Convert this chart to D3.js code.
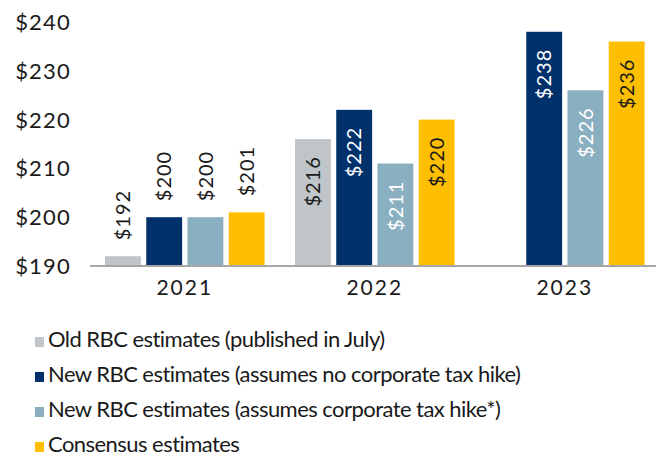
<!DOCTYPE html>
<html>
<head>
<meta charset="utf-8">
<script src="https://cdn.jsdelivr.net/npm/d3@7"></script>
<style>
  body { margin: 0; background: #fff; }
  text { font-family: Lato, 'Open Sans', sans-serif; fill: #1a1a1a; }
</style>
</head>
<body>
<div id="chart"></div>
<script>
const years = ['2021', '2022', '2023']
const seriesNames = [
  'Old RBC estimates (published in July)',
  'New RBC estimates (assumes no corporate tax hike)',
  'New RBC estimates (assumes corporate tax hike*)',
  'Consensus estimates'
]
const oldRbc = [192, 216, null]
const newNoHike = [200, 222, 238]
const newHike = [200, 211, 226]
const consensus = [201, 220, 236]
const yTicks = [190, 200, 210, 220, 230, 240]

const colors = ['#bfc5c9', '#00316b', '#8aafc0', '#fdbf00']
const labelColors = ['#1a1a1a', '#ffffff', '#ffffff', '#1a1a1a']
const width = 656
const height = 456
const baseY = 266

const seriesValues = [oldRbc, newNoHike, newHike, consensus]

const svg = d3.select('#chart').append('svg')
  .attr('width', width)
  .attr('height', height)

const x0 = d3.scaleBand()
  .domain(years)
  .range([89.8, 659.8])
  .paddingInner(0.16)
  .paddingOuter(0.08)

const x1 = d3.scaleBand()
  .domain(d3.range(seriesNames.length))
  .range([0, x0.bandwidth()])
  .paddingInner(0.13)

const y = d3.scaleLinear()
  .domain([190, 240])
  .range([baseY, 22])

// y tick labels, no axis line
svg.append('g')
  .selectAll('text')
  .data(yTicks)
  .enter().append('text')
  .attr('x', 71)
  .attr('y', d => y(d))
  .attr('dy', '0.36em')
  .attr('text-anchor', 'end')
  .style('font-size', '22px')
  .style('letter-spacing', '1.2px')
  .text(d => '$' + d)

const groups = svg.append('g')
  .selectAll('g')
  .data(years)
  .enter().append('g')
  .attr('transform', d => 'translate(' + x0(d) + ',0)')

const cells = groups.selectAll('g')
  .data((d, i) => seriesValues.map((vals, s) => ({ s: s, v: vals[i] })).filter(c => c.v != null))
  .enter().append('g')

cells.append('rect')
  .attr('x', d => x1(d.s))
  .attr('y', d => y(d.v))
  .attr('width', x1.bandwidth())
  .attr('height', d => baseY - y(d.v))
  .attr('fill', d => colors[d.s])

const inside = d => baseY - y(d.v) > 70

cells.append('text')
  .attr('transform', d => {
    const ty = inside(d) ? y(d.v) + 17 : y(d.v) - 16
    return 'translate(' + (x1(d.s) + x1.bandwidth() / 2) + ',' + ty + ') rotate(-90)'
  })
  .attr('text-anchor', d => inside(d) ? 'end' : 'start')
  .attr('dy', '0.36em')
  .style('font-size', '20px')
  .style('letter-spacing', '1px')
  .style('fill', d => inside(d) ? labelColors[d.s] : '#1a1a1a')
  .text(d => '$' + d.v)

// baseline
svg.append('line')
  .attr('x1', 90)
  .attr('x2', width)
  .attr('y1', baseY)
  .attr('y2', baseY)
  .attr('stroke', '#a6a6a6')
  .attr('stroke-width', 2)

// year labels
svg.append('g')
  .selectAll('text')
  .data(years)
  .enter().append('text')
  .attr('x', d => x0(d) + x0.bandwidth() / 2)
  .attr('y', 295)
  .attr('text-anchor', 'middle')
  .style('font-size', '21px')
  .style('letter-spacing', '2px')
  .text(d => d)

// legend
const legend = svg.append('g')
  .selectAll('g')
  .data(seriesNames)
  .enter().append('g')
  .attr('transform', (d, i) => 'translate(0,' + (347 + i * 35) + ')')

legend.append('rect')
  .attr('x', 35)
  .attr('y', -10)
  .attr('width', 9)
  .attr('height', 10)
  .attr('fill', (d, i) => colors[i])

legend.append('text')
  .attr('x', 48)
  .attr('y', 0)
  .style('font-size', '22px')
  .style('letter-spacing', '-0.55px')
  .text(d => d)
</script>
</body>
</html>
